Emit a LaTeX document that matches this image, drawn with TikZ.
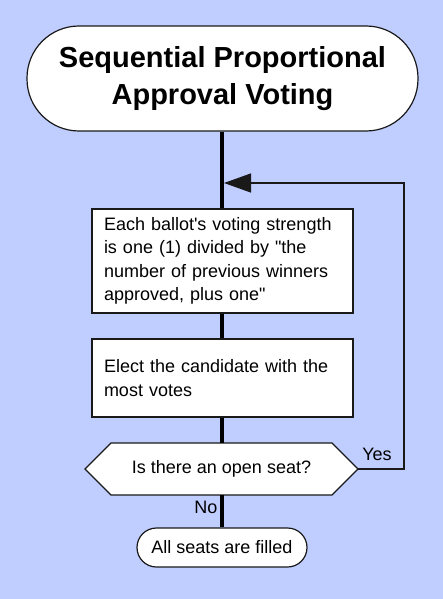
\documentclass[tikz,border=0pt]{standalone}
\usepackage{fontspec}
\newfontfamily\lsans{Liberation Sans}
\usetikzlibrary{arrows.meta,calc}
\definecolor{bgblue}{RGB}{192,206,255}
\definecolor{ink}{RGB}{25,25,25}
\begin{document}
\begin{tikzpicture}[x=1pt,y=-1pt,
  txt/.style={font=\lsans\fontsize{18}{23.5}\selectfont, text=black},
  term/.style={draw=ink, line width=1.2pt, fill=white, inner sep=0pt},
  procbox/.style={draw=ink, line width=1.2pt, fill=white, inner sep=0pt, minimum width=261pt, txt},
  flow/.style={line width=3.6pt, draw=black},
  loopline/.style={line width=1.4pt, draw=ink}]
\useasboundingbox (0,0) rectangle (443,599);
\fill[bgblue] (0,0) rectangle (443,599);
% nodes
\node[term, minimum width=391pt, minimum height=105pt, rounded corners=52pt,
      font=\lsans\bfseries\fontsize{29}{37}\selectfont, align=center]
  (title) at (222.5,78.5) {Sequential Proportional\\Approval Voting};
\node[procbox, minimum height=104pt, text width=237pt, align=left]
  (box1) at (222.5,261) {Each ballot's voting strength\\is one (1) divided by "the\\number of previous winners\\approved, plus one"};
\node[procbox, minimum height=78pt, text width=237pt, align=left]
  (box2) at (222.5,378) {Elect the candidate with the\\most votes};
\coordinate (decc) at (221.5,469);
\draw[line width=1.2pt, draw=ink, fill=white]
  ($(decc)+(-136.5,0)$) -- ($(decc)+(-110.5,-26)$) -- ($(decc)+(110.5,-26)$)
  -- ($(decc)+(136.5,0)$) -- ($(decc)+(110.5,26)$) -- ($(decc)+(-110.5,26)$) -- cycle;
\node[txt, minimum width=273pt, minimum height=52pt, inner sep=0pt]
  (dec) at (decc) {Is there an open seat?};
\node[term, txt, minimum width=170pt, minimum height=39pt, rounded corners=19.5pt]
  (final) at (222,547.5) {All seats are filled};
% connectors
\draw[flow] (title.south -| 222,0) -- (box1.north -| 222,0);
\draw[flow] (box1.south -| 222,0) -- (box2.north -| 222,0);
\draw[flow] (box2.south -| 222,0) -- (dec.north -| 222,0);
\draw[flow] (dec.south -| 222,0) -- (final.north -| 222,0);
\coordinate (loopc) at (404,183);
\coordinate (join) at (224,183);
\draw[loopline, -{Triangle[length=27pt,width=19pt]}] (dec.east) -| (loopc) -- (join);
% labels
\node[txt, anchor=center] (yes) at (377,454) {Yes};
\node[txt, anchor=center] (no) at (206,507) {No};
\end{tikzpicture}
\end{document}
